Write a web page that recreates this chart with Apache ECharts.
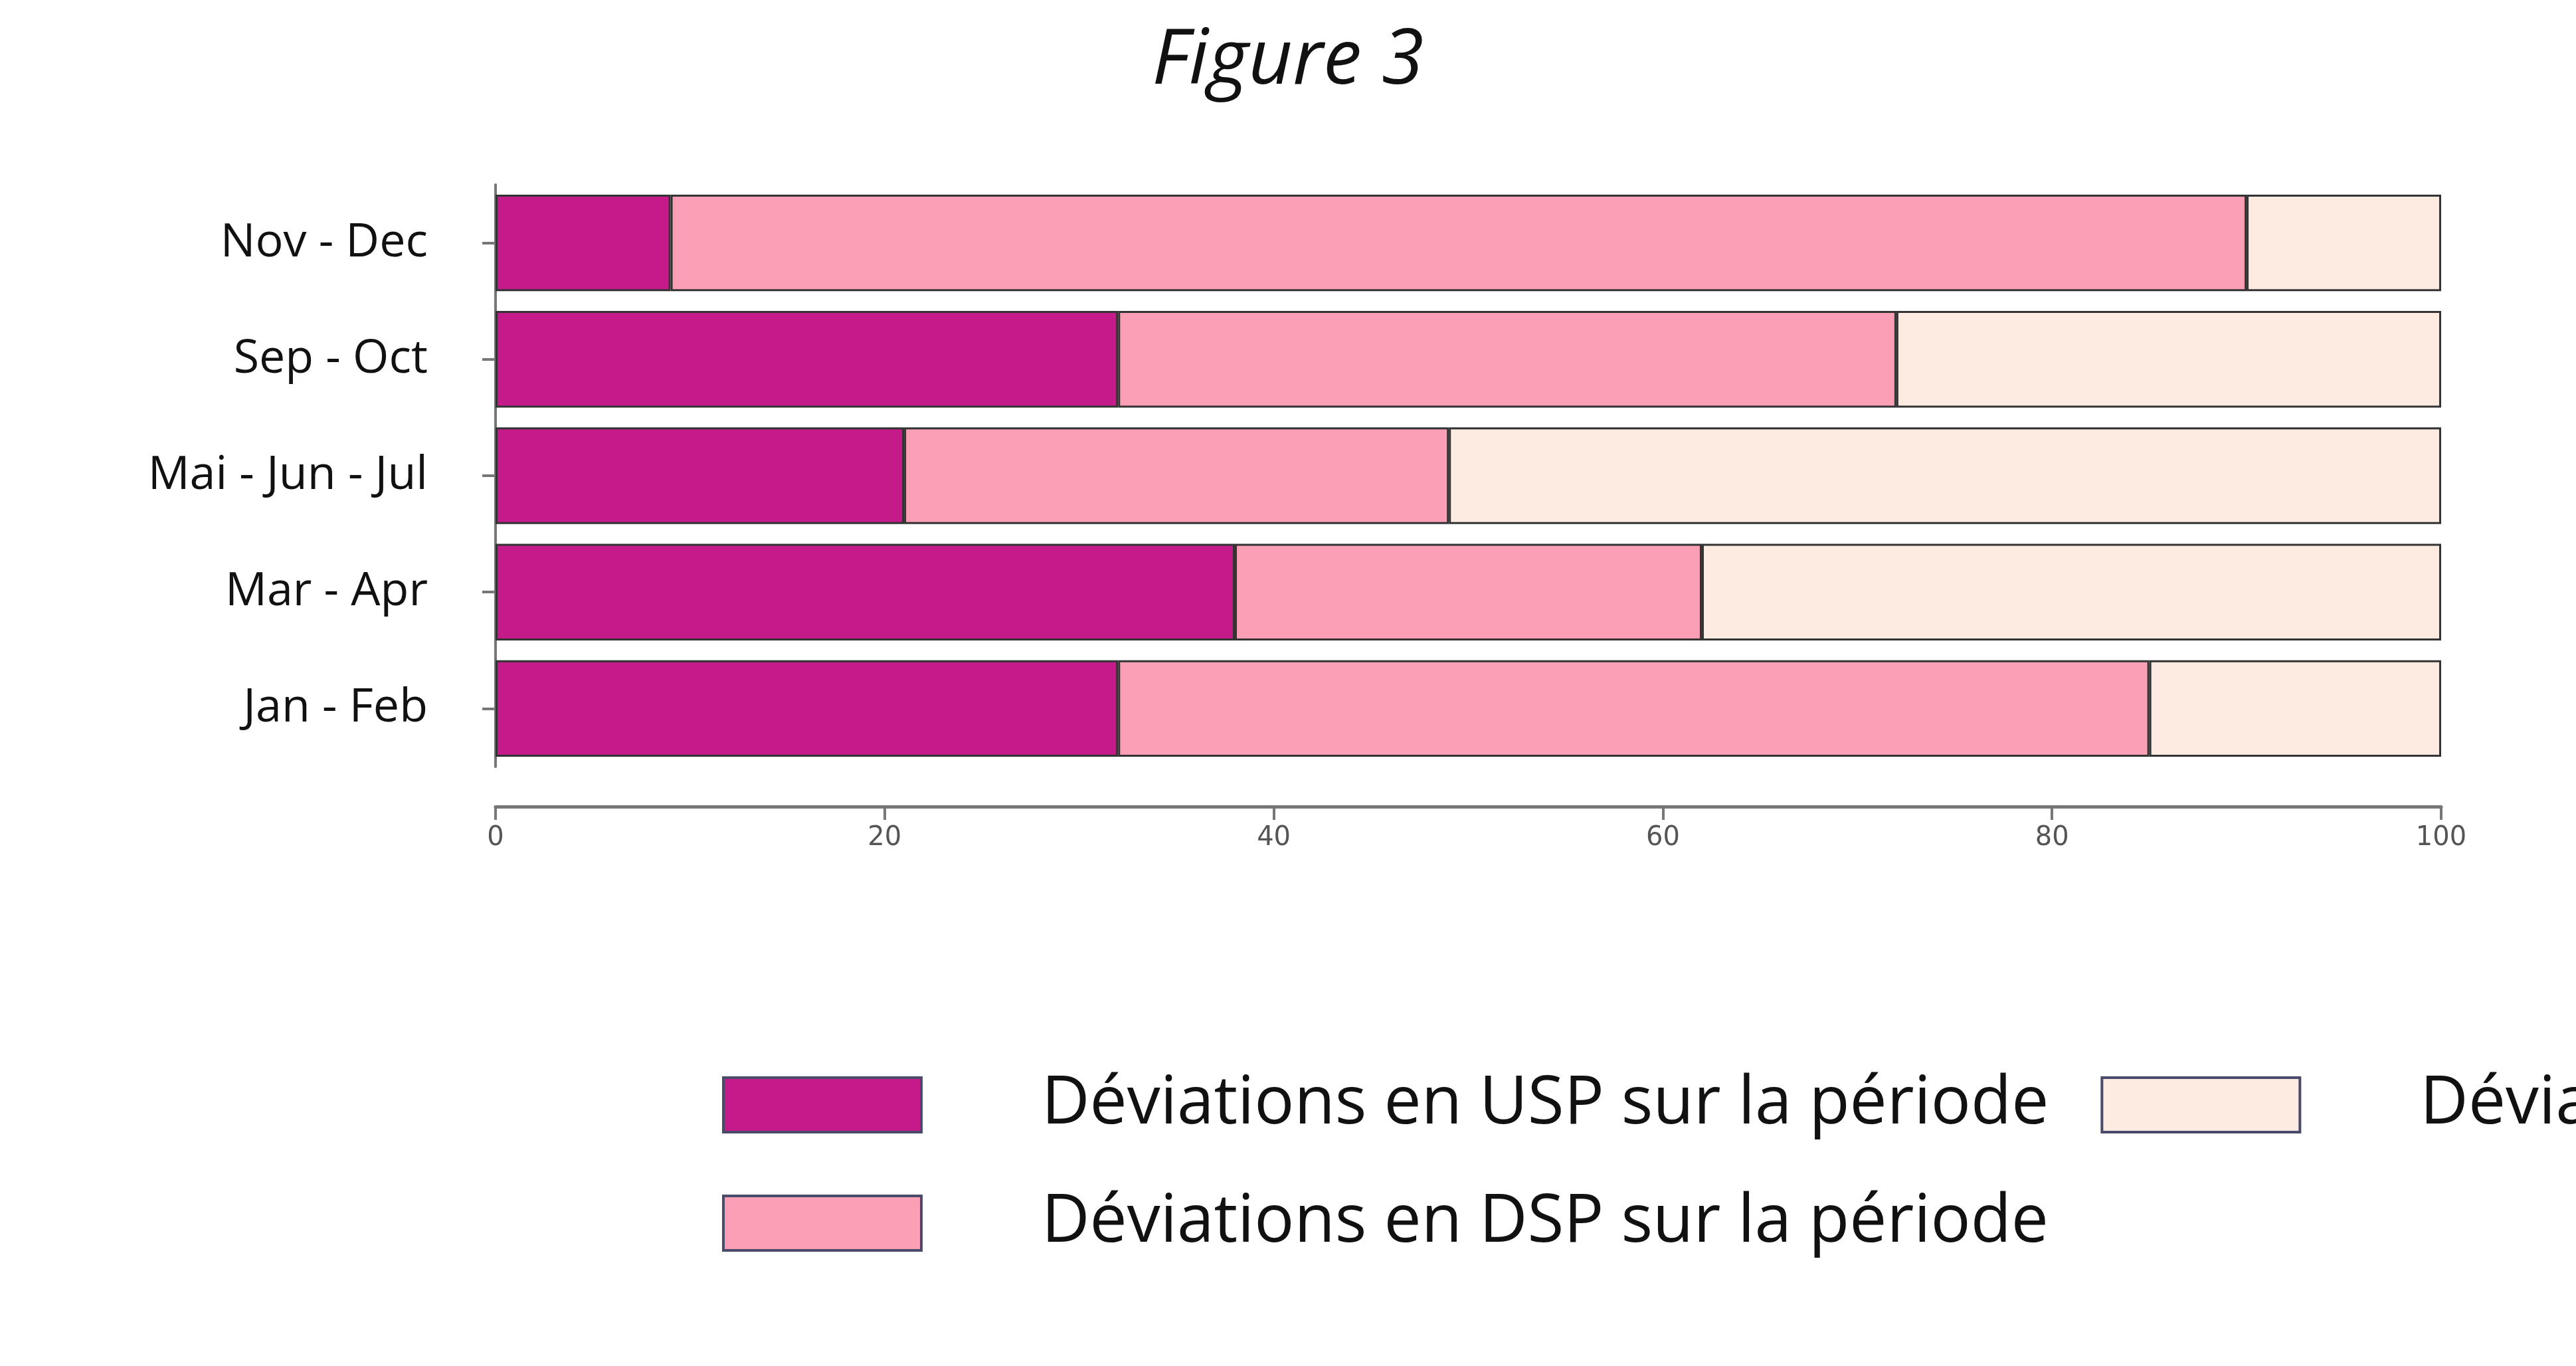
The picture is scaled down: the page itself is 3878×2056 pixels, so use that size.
<!DOCTYPE html>
<html>
<head>
<meta charset="utf-8">
<script src="https://cdn.jsdelivr.net/npm/echarts@6/dist/echarts.min.js"></script>
<style>html,body{margin:0;background:#fff}#chart{width:3878px;height:2056px}</style>
</head>
<body>
<div id="chart"></div>
<script>
// périodes, de bas en haut
var periods = ['Jan - Feb', 'Mar - Apr', 'Mai - Jun - Jul', 'Sep - Oct', 'Nov - Dec'];
var usp = [32, 38, 21, 32, 9];
var dsp = [53, 24, 28, 40, 81];
var ff = [15, 38, 51, 28, 10];
var names = ['Déviations en USP sur la période', 'Déviations en DSP sur la période', 'Déviations en F&F sur la période'];
var colors = ['#c51b8a', '#fa9fb5', '#fdeae0'];
var xTicks = [0, 20, 40, 60, 80, 100];

var myChart = echarts.init(document.getElementById('chart'));

function bar(name, data, color) {
    return {
        name: name,
        type: 'bar',
        stack: 'total',
        data: data,
        barCategoryGap: '17%',
        itemStyle: { color: color, borderColor: '#333', borderWidth: 3 }
    };
}

var option = {
    title: {
        text: 'Figure 3',
        left: 'center',
        top: 30,
        textStyle: { fontFamily: 'Open Sans', fontStyle: 'italic', fontWeight: 'normal', fontSize: 116, color: '#111' }
    },
    grid: { left: 746, right: 203, top: 278, bottom: 902 },
    xAxis: {
        type: 'value',
        min: xTicks[0],
        max: xTicks[xTicks.length - 1],
        interval: 20,
        offset: 60,
        splitLine: { show: false },
        axisLine: { show: true, lineStyle: { color: '#777', width: 5 } },
        axisTick: { show: true, length: 20, lineStyle: { color: '#777', width: 4 } },
        axisLabel: { color: '#555', fontSize: 40, margin: 28, fontFamily: 'DejaVu Sans' }
    },
    yAxis: {
        type: 'category',
        data: periods,
        offset: 32,
        axisLine: { show: true, lineStyle: { color: '#777', width: 4 } },
        axisTick: { show: true, alignWithLabel: true, length: 20, lineStyle: { color: '#777', width: 4 } },
        axisLabel: { color: '#111', fontSize: 70, margin: 70, fontFamily: 'Open Sans' }
    },
    legend: {
        orient: 'vertical',
        left: 1082,
        top: 1608,
        width: 2700,
        height: 440,
        itemWidth: 298,
        itemHeight: 82,
        itemGap: 78,
        icon: 'rect',
        itemStyle: { borderColor: '#4a4a6a', borderWidth: 4 },
        textStyle: { fontSize: 100, color: '#111', fontFamily: 'Open Sans', padding: [0, 0, 0, 176] },
        data: names
    },
    series: [
        bar(names[0], usp, colors[0]),
        bar(names[1], dsp, colors[1]),
        bar(names[2], ff, colors[2])
    ]
};
myChart.setOption(option);
</script>
</body>
</html>
